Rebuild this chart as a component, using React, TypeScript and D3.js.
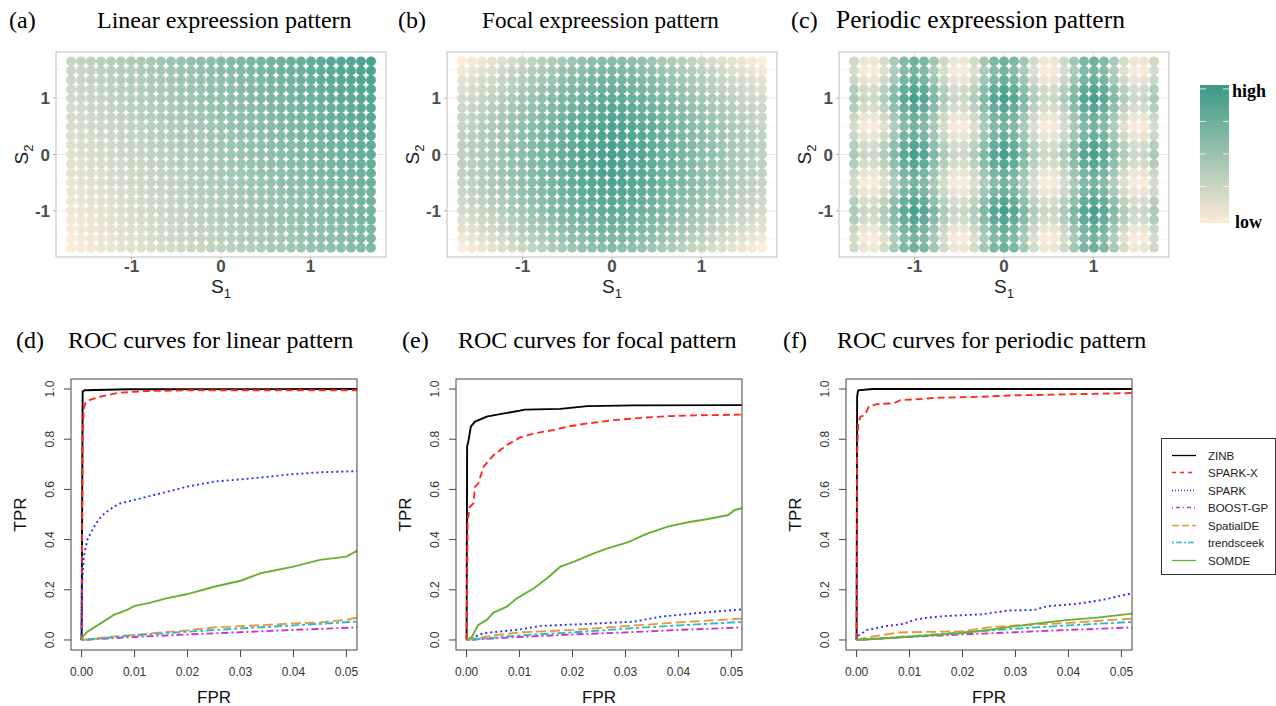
import React from 'react';
import * as d3 from 'd3';

// spatial grid (standardised coordinates)
const s1Coords = [-1.677, -1.565, -1.453, -1.342, -1.23, -1.118, -1.006, -0.894, -0.783, -0.671, -0.559, -0.447, -0.335, -0.224, -0.112, 0,
  0.112, 0.224, 0.335, 0.447, 0.559, 0.671, 0.783, 0.894, 1.006, 1.118, 1.23, 1.342, 1.453, 1.565, 1.677];
const s2Coords = [-1.651, -1.486, -1.321, -1.156, -0.991, -0.826, -0.661, -0.495, -0.33, -0.165, 0,
  0.165, 0.33, 0.495, 0.661, 0.826, 0.991, 1.156, 1.321, 1.486, 1.651];
const axisBreaks = [-1, 0, 1];
const minorBreaks = [-1.5, -0.5, 0.5, 1.5];

// expression level read per column (S1) and per row (S2), summed per spot
const linearCol = [0, 0.02, 0.05, 0.07, 0.09, 0.12, 0.14, 0.16, 0.19, 0.21, 0.23, 0.26, 0.28, 0.3, 0.33, 0.35,
  0.37, 0.4, 0.42, 0.44, 0.47, 0.49, 0.51, 0.54, 0.56, 0.58, 0.61, 0.63, 0.65, 0.68, 0.7];
const linearRow = [0, 0.015, 0.03, 0.045, 0.06, 0.075, 0.09, 0.105, 0.12, 0.135, 0.15,
  0.165, 0.18, 0.195, 0.21, 0.225, 0.24, 0.255, 0.27, 0.285, 0.3];
const focalCol = [0, 0.04, 0.09, 0.13, 0.18, 0.23, 0.28, 0.33, 0.38, 0.43, 0.48, 0.53, 0.57, 0.61, 0.64, 0.65,
  0.64, 0.61, 0.57, 0.53, 0.48, 0.43, 0.38, 0.33, 0.28, 0.23, 0.18, 0.13, 0.09, 0.04, 0];
const focalRow = [0, 0.06, 0.12, 0.17, 0.22, 0.26, 0.29, 0.315, 0.335, 0.345, 0.35,
  0.345, 0.335, 0.315, 0.29, 0.26, 0.22, 0.17, 0.12, 0.06, 0];
const periodicCol = [0.21, 0.03, 0.02, 0.17, 0.42, 0.65, 0.75, 0.67, 0.45, 0.2, 0.03, 0.02, 0.18, 0.44, 0.66, 0.75,
  0.66, 0.44, 0.18, 0.02, 0.03, 0.2, 0.45, 0.67, 0.75, 0.65, 0.42, 0.17, 0.02, 0.03, 0.21];
const periodicRow = [0.05, 0, 0.07, 0.2, 0.25, 0.18, 0.06, 0, 0.07, 0.19, 0.25,
  0.19, 0.07, 0, 0.06, 0.18, 0.25, 0.2, 0.07, 0, 0.05];

const colorbarBreaks = [0, 0.25, 0.5, 0.75, 1];

// ROC curves: [FPR, TPR]
const methods = ['ZINB', 'SPARK-X', 'SPARK', 'BOOST-GP', 'SpatialDE', 'trendsceek', 'SOMDE'];
const methodColors = ['#000000', '#FF2A1F', '#2233FF', '#CC33CC', '#E8983A', '#2EB7C9', '#66B132'];
const methodDash = ['', '7,4', '2,3', '2,3,7,3', '10,4', '3,3,8,3', ''];
const legendDash = ['', '4,4', '1,2', '1,3,4,3', '7,3', '2,2,6,2', ''];
const fprTicks = [0, 0.01, 0.02, 0.03, 0.04, 0.05];
const tprTicks = [0, 0.2, 0.4, 0.6, 0.8, 1];

const linZINB = [[0, 0], [0.0002, 0.99], [0.0006, 0.995], [0.009, 0.999], [0.052, 1]];
const linSPARKX = [[0, 0], [0.0002, 0.8], [0.0004, 0.92], [0.0008, 0.95], [0.002, 0.96], [0.004, 0.972], [0.007, 0.985], [0.012, 0.992], [0.02, 0.995], [0.052, 0.995]];
const linSPARK = [[0, 0], [0.0001, 0.22], [0.0004, 0.33], [0.0011, 0.4], [0.0017, 0.425], [0.0026, 0.46], [0.0036, 0.49], [0.0045, 0.507], [0.006, 0.53], [0.0074, 0.545], [0.0099, 0.558], [0.0149, 0.584], [0.0199, 0.611], [0.025, 0.631], [0.03, 0.64], [0.035, 0.65], [0.04, 0.661], [0.045, 0.668], [0.052, 0.673]];
const linBOOST = [[0, 0], [0.01, 0.012], [0.02, 0.022], [0.03, 0.031], [0.04, 0.04], [0.052, 0.05]];
const linSpatialDE = [[0, 0], [0.005, 0.012], [0.01, 0.02], [0.015, 0.03], [0.02, 0.038], [0.025, 0.05], [0.03, 0.055], [0.035, 0.06], [0.04, 0.066], [0.045, 0.07], [0.05, 0.08], [0.052, 0.089]];
const linTrendsceek = [[0, 0], [0.01, 0.018], [0.02, 0.033], [0.03, 0.046], [0.04, 0.058], [0.052, 0.073]];
const linSOMDE = [[0, 0], [0.0003, 0.015], [0.0011, 0.033], [0.0036, 0.066], [0.0061, 0.1], [0.0086, 0.12], [0.0099, 0.135], [0.013, 0.149], [0.016, 0.166], [0.02, 0.183], [0.025, 0.212], [0.03, 0.236], [0.0338, 0.266], [0.04, 0.292], [0.045, 0.319], [0.05, 0.332], [0.052, 0.355]];

const focZINB = [[0, 0], [0.0001, 0.77], [0.0004, 0.8], [0.0008, 0.85], [0.0016, 0.87], [0.0038, 0.89], [0.0063, 0.9], [0.0101, 0.914], [0.011, 0.918], [0.0177, 0.921], [0.0228, 0.932], [0.0316, 0.935], [0.052, 0.936]];
const focSPARKX = [[0, 0], [0.0002, 0.478], [0.0006, 0.53], [0.0013, 0.545], [0.0016, 0.61], [0.0022, 0.624], [0.0032, 0.69], [0.0051, 0.737], [0.0076, 0.777], [0.0101, 0.807], [0.0127, 0.823], [0.0165, 0.837], [0.019, 0.85], [0.0228, 0.863], [0.0278, 0.876], [0.0329, 0.885], [0.038, 0.892], [0.043, 0.895], [0.052, 0.898]];
const focSPARK = [[0, 0], [0.0032, 0.027], [0.0101, 0.042], [0.0139, 0.056], [0.0228, 0.064], [0.0316, 0.073], [0.0367, 0.093], [0.043, 0.106], [0.052, 0.122]];
const focBOOST = [[0, 0], [0.01, 0.012], [0.02, 0.022], [0.03, 0.03], [0.04, 0.04], [0.052, 0.05]];
const focSpatialDE = [[0, 0], [0.005, 0.018], [0.01, 0.03], [0.02, 0.04], [0.03, 0.055], [0.04, 0.07], [0.052, 0.085]];
const focTrendsceek = [[0, 0], [0.01, 0.018], [0.02, 0.03], [0.03, 0.045], [0.04, 0.058], [0.052, 0.072]];
const focSOMDE = [[0, 0], [0.001, 0.013], [0.0022, 0.06], [0.0038, 0.08], [0.0051, 0.109], [0.0076, 0.133], [0.0095, 0.166], [0.0127, 0.206], [0.0152, 0.246], [0.0177, 0.292], [0.0203, 0.312], [0.024, 0.345], [0.0266, 0.365], [0.0304, 0.389], [0.0342, 0.425], [0.038, 0.452], [0.0418, 0.469], [0.0456, 0.482], [0.0494, 0.498], [0.0506, 0.518], [0.052, 0.525]];

const perZINB = [[0, 0], [0.0001, 0.97], [0.0003, 0.995], [0.003, 1], [0.052, 1]];
const perSPARKX = [[0, 0], [0.0001, 0.74], [0.0003, 0.86], [0.0007, 0.89], [0.0016, 0.896], [0.0023, 0.93], [0.0039, 0.94], [0.007, 0.943], [0.0083, 0.956], [0.0121, 0.96], [0.0146, 0.965], [0.0235, 0.969], [0.0298, 0.975], [0.0361, 0.977], [0.0425, 0.98], [0.052, 0.984]];
const perSPARK = [[0, 0], [0, 0.013], [0.002, 0.04], [0.0058, 0.056], [0.0089, 0.064], [0.0108, 0.08], [0.0134, 0.089], [0.0172, 0.096], [0.0235, 0.102], [0.0285, 0.117], [0.0336, 0.12], [0.0361, 0.135], [0.0412, 0.143], [0.0463, 0.159], [0.052, 0.186]];
const perBOOST = [[0, 0], [0.01, 0.012], [0.02, 0.022], [0.03, 0.031], [0.04, 0.04], [0.052, 0.05]];
const perSpatialDE = [[0, 0], [0.002, 0.01], [0.008, 0.03], [0.02, 0.035], [0.025, 0.05], [0.03, 0.058], [0.04, 0.068], [0.052, 0.085]];
const perTrendsceek = [[0, 0], [0.01, 0.015], [0.02, 0.03], [0.03, 0.045], [0.04, 0.058], [0.052, 0.072]];
const perSOMDE = [[0, 0], [0.01, 0.013], [0.02, 0.028], [0.025, 0.04], [0.03, 0.055], [0.035, 0.068], [0.04, 0.08], [0.045, 0.088], [0.052, 0.105]];

const SERIF = '"Liberation Serif", "Times New Roman", serif';
const SANS = '"Liberation Sans", Arial, sans-serif';

const color = d3.scaleLinear<string>().domain([0, 1]).range(['#FCEAD6', '#3A9A86']).interpolate(d3.interpolateRgb);

function Spatial({ left, label, labelX, title, titleX, titleSize, colLevel, rowLevel }) {
  const top = 52, w = 330, h = 205;
  const xe = d3.extent(s1Coords), ye = d3.extent(s2Coords);
  const xpad = (xe[1] - xe[0]) * 0.05, ypad = (ye[1] - ye[0]) * 0.05;
  const x = d3.scaleLinear().domain([xe[0] - xpad, xe[1] + xpad]).range([left, left + w]);
  const y = d3.scaleLinear().domain([ye[0] - ypad, ye[1] + ypad]).range([top + h, top]);
  const dots = [];
  s1Coords.forEach((s1, i) => s2Coords.forEach((s2, j) => {
    dots.push(<circle key={i + '-' + j} cx={x(s1)} cy={y(s2)} r={4.9} fill={color(colLevel[i] + rowLevel[j])} fillOpacity={0.92} />);
  }));
  return (
    <g>
      <text x={labelX} y={28} fontFamily={SERIF} fontSize={24}>{label}</text>
      <text x={titleX} y={28} fontFamily={SERIF} fontSize={titleSize}>{title}</text>
      {minorBreaks.map((b) => (
        <g key={'m' + b}>
          <line x1={x(b)} x2={x(b)} y1={top} y2={top + h} stroke="#f2f2f2" strokeWidth={0.6} />
          <line x1={left} x2={left + w} y1={y(b)} y2={y(b)} stroke="#f2f2f2" strokeWidth={0.6} />
        </g>
      ))}
      {axisBreaks.map((b) => (
        <g key={'M' + b}>
          <line x1={x(b)} x2={x(b)} y1={top} y2={top + h} stroke="#e8e8e8" strokeWidth={1} />
          <line x1={left} x2={left + w} y1={y(b)} y2={y(b)} stroke="#e8e8e8" strokeWidth={1} />
        </g>
      ))}
      {dots}
      <rect x={left} y={top} width={w} height={h} fill="none" stroke="#c8c8c8" strokeWidth={1.2} />
      {axisBreaks.map((b) => (
        <g key={'t' + b} fontFamily={SANS} fontWeight="bold" fontSize={17} fill="#4d4d4d">
          <line x1={x(b)} x2={x(b)} y1={top + h} y2={top + h + 3} stroke="#b3b3b3" />
          <text x={x(b)} y={top + h + 15} textAnchor="middle">{b}</text>
          <line x1={left - 3} x2={left} y1={y(b)} y2={y(b)} stroke="#b3b3b3" />
          <text x={left - 6} y={y(b) + 6} textAnchor="end">{b}</text>
        </g>
      ))}
      <text x={left + w / 2} y={293} textAnchor="middle" fontFamily={SANS} fontSize={19} fill="#1a1a1a">
        S<tspan fontSize={13} dy={5}>1</tspan>
      </text>
      <text transform={`translate(${left - 28},${top + h / 2}) rotate(-90)`} textAnchor="middle" fontFamily={SANS} fontSize={19} fill="#1a1a1a">
        S<tspan fontSize={13} dy={5}>2</tspan>
      </text>
    </g>
  );
}

function Roc({ left, label, labelX, title, titleX, curves }) {
  const top = 379, w = 286, h = 271;
  const x = d3.scaleLinear().domain([-0.002, 0.052]).range([left, left + w]);
  const y = d3.scaleLinear().domain([-0.04, 1.04]).range([top + h, top]);
  const line = d3.line<number[]>().x((d) => x(d[0])).y((d) => y(d[1]));
  const clipId = 'clip' + label.replace(/[()]/g, '');
  return (
    <g>
      <text x={labelX} y={348} fontFamily={SERIF} fontSize={24}>{label}</text>
      <text x={titleX} y={348} fontFamily={SERIF} fontSize={24}>{title}</text>
      <clipPath id={clipId}><rect x={left} y={top} width={w} height={h} /></clipPath>
      <g clipPath={`url(#${clipId})`}>
        {curves.map((c, k) => (
          <path key={k} d={line(c)} fill="none" stroke={methodColors[k]} strokeWidth={1.9} strokeDasharray={methodDash[k]} />
        ))}
      </g>
      <rect x={left} y={top} width={w} height={h} fill="none" stroke="#444" strokeWidth={1} />
      <g fontFamily={SANS} fontSize={12} fill="#333">
        {fprTicks.map((t) => (
          <g key={'x' + t}>
            <line x1={x(t)} x2={x(t)} y1={top + h} y2={top + h + 7} stroke="#444" />
            <text x={x(t)} y={top + h + 26} textAnchor="middle">{t.toFixed(2)}</text>
          </g>
        ))}
        {tprTicks.map((t) => (
          <g key={'y' + t}>
            <line x1={left - 7} x2={left} y1={y(t)} y2={y(t)} stroke="#444" />
            <text transform={`translate(${left - 17},${y(t)}) rotate(-90)`} textAnchor="middle">{t.toFixed(1)}</text>
          </g>
        ))}
      </g>
      <text x={left + w / 2} y={703} textAnchor="middle" fontFamily={SANS} fontSize={17} fill="#111">FPR</text>
      <text transform={`translate(${left - 45},${top + h / 2}) rotate(-90)`} textAnchor="middle" fontFamily={SANS} fontSize={17} fill="#111">TPR</text>
    </g>
  );
}

export default function App() {
  const cb = d3.scaleLinear().domain([-0.03, 1.03]).range([223, 85]);
  const legendY = d3.scaleLinear().domain([0, methods.length - 1]).range([454.5, 559.5]);
  return (
    <svg width={1276} height={706} style={{ position: 'absolute', left: 0, top: 0, background: '#fff' }}>
      <defs>
        <linearGradient id="cbar" x1="0" x2="0" y1="1" y2="0">
          <stop offset="0%" stopColor={color(0)} />
          <stop offset="50%" stopColor={color(0.5)} />
          <stop offset="100%" stopColor={color(1)} />
        </linearGradient>
      </defs>
      <Spatial left={56} label="(a)" labelX={9} title="Linear expreession pattern" titleX={97} titleSize={24} colLevel={linearCol} rowLevel={linearRow} />
      <Spatial left={447} label="(b)" labelX={398} title="Focal expreession pattern" titleX={482} titleSize={23.2} colLevel={focalCol} rowLevel={focalRow} />
      <Spatial left={839} label="(c)" labelX={791} title="Periodic expreession pattern" titleX={836} titleSize={25.5} colLevel={periodicCol} rowLevel={periodicRow} />

      <rect x={1200} y={85} width={29} height={138} fill="url(#cbar)" />
      {colorbarBreaks.map((b) => (
        <g key={b}>
          <line x1={1200} x2={1206} y1={cb(b)} y2={cb(b)} stroke="#fff" strokeOpacity={0.8} />
          <line x1={1223} x2={1229} y1={cb(b)} y2={cb(b)} stroke="#fff" strokeOpacity={0.8} />
        </g>
      ))}
      <text x={1232} y={cb(1) + 8} fontFamily={SERIF} fontWeight="bold" fontSize={18}>high</text>
      <text x={1235} y={cb(0) + 9} fontFamily={SERIF} fontWeight="bold" fontSize={18}>low</text>

      <Roc left={71} label="(d)" labelX={16} title="ROC curves for linear pattern" titleX={68}
        curves={[linZINB, linSPARKX, linSPARK, linBOOST, linSpatialDE, linTrendsceek, linSOMDE]} />
      <Roc left={456} label="(e)" labelX={402} title="ROC curves for focal pattern" titleX={458}
        curves={[focZINB, focSPARKX, focSPARK, focBOOST, focSpatialDE, focTrendsceek, focSOMDE]} />
      <Roc left={846} label="(f)" labelX={783} title="ROC curves for periodic pattern" titleX={837}
        curves={[perZINB, perSPARKX, perSPARK, perBOOST, perSpatialDE, perTrendsceek, perSOMDE]} />

      <rect x={1161.5} y={438.5} width={114} height={136} fill="#fff" stroke="#333" strokeWidth={1} />
      {methods.map((m, k) => (
        <g key={m}>
          <line x1={1172} x2={1196} y1={Math.round(legendY(k)) + 0.5} y2={Math.round(legendY(k)) + 0.5}
            stroke={methodColors[k]} strokeWidth={1.3} strokeDasharray={legendDash[k]} />
          <text x={1208} y={Math.round(legendY(k)) + 4.5} fontFamily={SANS} fontSize={11.5} fill="#222">{m}</text>
        </g>
      ))}
    </svg>
  );
}
